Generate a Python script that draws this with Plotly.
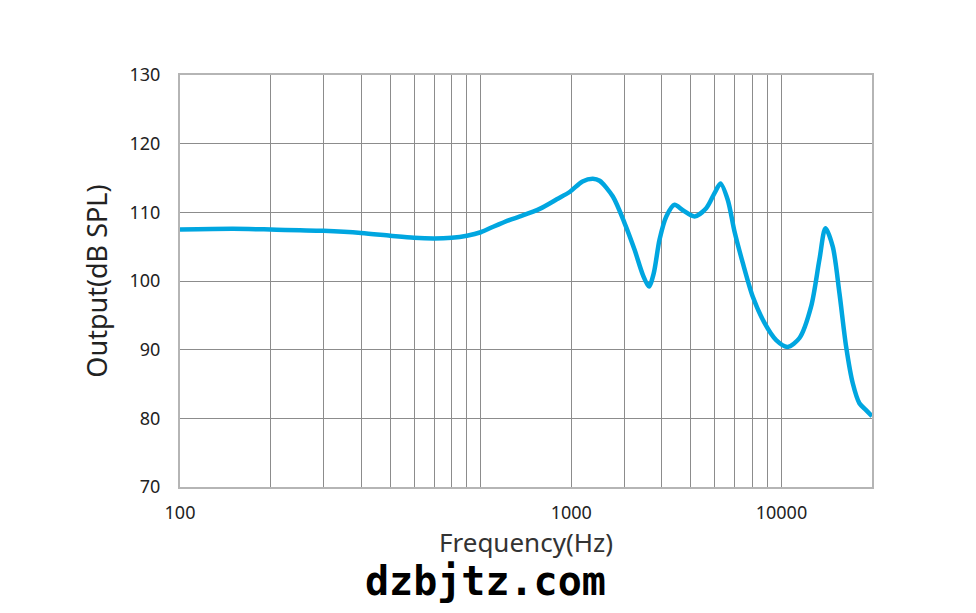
import plotly.graph_objects as go

# Frequency response
freq_hz = [100, 150, 200, 300, 400, 500, 600, 700, 800, 900, 1000, 1100, 1250, 1350,
           1570, 1790, 1980, 2180, 2360, 2485, 2750, 3010, 3250, 3460, 3625, 3760,
           3930, 4140, 4410, 4700, 5140, 5620, 5990, 6270, 6630, 6980, 7440, 8030,
           8780, 9600, 10490, 11480, 12550, 13370, 14000, 14810, 15590, 16410,
           17260, 18160, 19110, 20000]
output_db = [107.5, 107.6, 107.5, 107.3, 107.0, 106.6, 106.3, 106.2, 106.3, 106.6, 107.1,
             107.9, 108.9, 109.4, 110.5, 111.9, 113.0, 114.5, 114.9, 114.6, 112.3, 108.4,
             104.5, 100.9, 99.2, 101.1, 106.0, 109.4, 111.1, 110.3, 109.4, 110.6, 112.8,
             114.2, 111.8, 107.2, 102.6, 97.7, 93.9, 91.4, 90.4, 91.7, 96.3, 103.1,
             107.7, 105.0, 98.2, 90.4, 85.1, 82.2, 81.2, 80.3]

# Grid positions and labels as drawn in the reference
x_grid = [100, 200, 300, 400, 500, 600, 700, 800, 900, 1000,
          2000, 3000, 4000, 5000, 6000, 7000, 8000, 9000, 10000, 20000]
x_labels = ["100", "", "", "", "", "", "", "", "", "",
            "1000", "", "", "", "", "", "", "", "10000", ""]
y_ticks = [70, 80, 90, 100, 110, 120, 130]

FONT = "Noto Sans"
OFF = 8  # page margin of the html body

W, H = 976 - OFF, 613 - OFF
L, T = 180 - OFF, 75 - OFF
R, B = W - (872 - OFF), H - (487 - OFF)

fig = go.Figure()
fig.add_trace(go.Scatter(
    x=freq_hz, y=output_db, mode="lines",
    line=dict(color="#00a6e0", width=4.5, shape="spline", smoothing=0.8),
    hoverinfo="skip", showlegend=False,
))

fig.update_layout(
    width=W, height=H,
    margin=dict(l=L, r=R, t=T, b=B),
    paper_bgcolor="white", plot_bgcolor="white",
    font=dict(family=FONT, color="#222"),
    xaxis=dict(
        type="log", range=[2, 4.30103],
        tickvals=x_grid, ticktext=x_labels,
        showgrid=True, gridcolor="#8c8c8c", gridwidth=1,
        showline=True, linecolor="#b5b5b5", linewidth=2, mirror=True,
        ticks="", tickfont=dict(size=18, family=FONT, color="#222"),
        ticklabelstandoff=8,
        title=dict(text="Frequency(Hz)", font=dict(size=26, family=FONT, color="#333"), standoff=6),
        zeroline=False,
    ),
    yaxis=dict(
        range=[70, 130], tickvals=y_ticks,
        showgrid=True, gridcolor="#8c8c8c", gridwidth=1,
        showline=True, linecolor="#b5b5b5", linewidth=2, mirror=True,
        ticks="", tickfont=dict(size=18, family=FONT, color="#222"),
        ticklabelstandoff=14,
        title=dict(text="Output(dB SPL)", font=dict(size=27, family=FONT, color="#222"), standoff=14),
        zeroline=False,
    ),
)

pw, ph = W - L - R, H - T - B
fig.add_annotation(
    text="<b>dzbjtz.com</b>", xref="paper", yref="paper",
    x=(485 - 180) / pw, y=-(581 - 487) / ph,
    xanchor="center", yanchor="middle", showarrow=False,
    font=dict(family="DejaVu Sans Mono", size=40, color="#000"),
)

fig.write_html("out.html")
